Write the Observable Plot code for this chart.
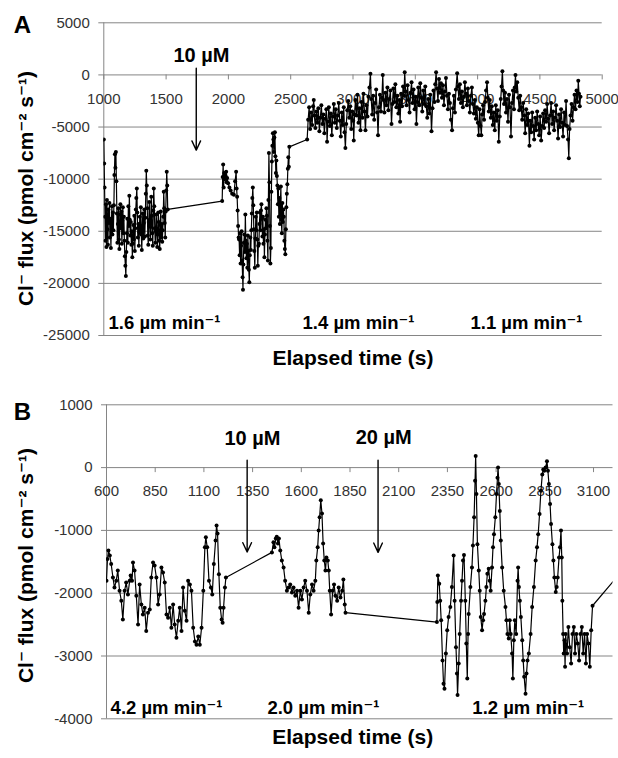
<!DOCTYPE html>
<html>
<head>
<meta charset="utf-8">
<script src="https://cdn.jsdelivr.net/npm/d3@7"></script>
<script src="https://cdn.jsdelivr.net/npm/@observablehq/plot@0.6"></script>
<style>
  html, body { margin: 0; padding: 0; background: #fff; }
  #chart { position: relative; width: 618px; height: 758px; background: #fff; overflow: hidden; }
  #chart svg { position: absolute; left: 0; overflow: visible; }
</style>
</head>
<body>
<div id="chart"></div>
<script>
// ---------- Panel A data: [elapsed time (s), Cl- flux (pmol cm-2 s-1)] ----------
const seriesA1 = [[1000,-6200],[1003,-8500],[1006,-10800],[1010,-13600],[1013,-15900],[1017,-12400],[1021,-16500],[1025,-12000],[1029,-14800],[1033,-16300],[1037,-12900],[1041,-14200],[1045,-12300],[1049,-15600],[1053,-13800],[1057,-16600],[1061,-14200],[1065,-12600],[1069,-15300],[1073,-13200],[1077,-14900],[1081,-12500],[1085,-9600],[1089,-7600],[1093,-8900],[1097,-7400],[1101,-10200],[1105,-13300],[1109,-16100],[1113,-14300],[1117,-12800],[1121,-15800],[1125,-16700],[1129,-13400],[1133,-12400],[1137,-14700],[1141,-13100],[1145,-16200],[1149,-14000],[1153,-12700],[1157,-15200],[1161,-13600],[1165,-15900],[1169,-17400],[1173,-18300],[1177,-19300],[1181,-17000],[1185,-15200],[1189,-13800],[1193,-16100],[1197,-12600],[1201,-14500],[1205,-11600],[1209,-13900],[1213,-15400],[1217,-14100],[1221,-16300],[1225,-15000],[1229,-17500],[1233,-16200],[1237,-14400],[1241,-15800],[1245,-13500],[1249,-16900],[1253,-14700],[1257,-12900],[1261,-11800],[1265,-10900],[1269,-13200],[1273,-15600],[1277,-14300],[1281,-16400],[1285,-15100],[1289,-13600],[1293,-14800],[1297,-12700],[1301,-15300],[1305,-16800],[1309,-14500],[1313,-13300],[1317,-15700],[1321,-14200],[1325,-12900],[1329,-15500],[1333,-13700],[1337,-11400],[1341,-9200],[1345,-10600],[1349,-12800],[1353,-15400],[1357,-16300],[1361,-14100],[1365,-12200],[1369,-13900],[1373,-15800],[1377,-14600],[1381,-11700],[1385,-13500],[1389,-15200],[1393,-16400],[1397,-13000],[1401,-10900],[1405,-12600],[1409,-14700],[1413,-16100],[1417,-15000],[1421,-13400],[1425,-14800],[1429,-16500],[1433,-15300],[1437,-13200],[1441,-14100],[1445,-15900],[1449,-16700],[1453,-14400],[1457,-13100],[1461,-15600],[1465,-14300],[1469,-16000],[1473,-14900],[1477,-13600],[1481,-11200],[1485,-12800],[1489,-14200],[1493,-15600],[1497,-13100],[1501,-11100],[1505,-9300],[1509,-10600],[1513,-12900]];
const seriesA2 = [[1950,-12100],[1954,-9800],[1958,-8600],[1962,-10800],[1966,-9400],[1970,-10000],[1974,-9600],[1978,-9700],[1982,-9300],[1986,-10300],[1990,-9900],[1998,-10400],[2008,-10800],[2018,-11100],[2030,-11400],[2044,-11500],[2054,-10200],[2062,-9300],[2066,-10900],[2070,-11700],[2074,-13000],[2078,-14500],[2082,-15600],[2086,-15800],[2090,-17300],[2094,-15200],[2098,-18100],[2102,-16400],[2106,-15000],[2110,-17800],[2114,-19400],[2117,-20600],[2120,-18200],[2124,-16100],[2128,-15300],[2132,-17000],[2136,-13400],[2140,-15900],[2144,-17600],[2148,-16200],[2152,-18500],[2156,-15400],[2160,-16900],[2164,-18700],[2168,-19900],[2172,-17300],[2176,-15600],[2180,-16800],[2184,-14900],[2188,-13300],[2192,-11800],[2196,-10800],[2200,-12500],[2204,-14800],[2208,-16900],[2212,-18500],[2216,-15700],[2220,-13600],[2224,-14900],[2228,-13200],[2232,-15800],[2236,-18300],[2240,-16400],[2245,-16200],[2249,-14300],[2253,-13200],[2257,-14900],[2261,-13000],[2265,-12400],[2269,-13800],[2273,-15500],[2277,-13600],[2281,-16200],[2285,-14800],[2289,-17500],[2293,-15300],[2297,-13900],[2301,-14700],[2305,-12800],[2309,-13500],[2313,-15900],[2317,-17800],[2321,-12000],[2325,-7500],[2329,-10300],[2333,-14500],[2337,-18100],[2341,-16600],[2345,-11200],[2349,-8300],[2353,-6800],[2357,-5600],[2361,-6200],[2365,-7400],[2369,-6000],[2373,-5500],[2377,-7800],[2381,-9400],[2385,-8200],[2389,-9700],[2393,-10600],[2397,-12400],[2401,-10900],[2405,-13600],[2409,-11800],[2413,-14300],[2417,-12600],[2421,-10700],[2425,-13900],[2429,-15200],[2433,-12300],[2437,-14100],[2441,-12900],[2445,-13600],[2449,-15900],[2453,-16700],[2457,-17200],[2461,-14800],[2465,-12700],[2469,-11400],[2473,-10500],[2477,-9000],[2481,-7900],[2485,-8800],[2489,-6900]];
const seriesA3 = [[2632,-6200],[2640,-4300],[2648,-3100],[2656,-5200],[2664,-3600],[2672,-4800],[2680,-3000],[2685,-2400],[2690,-3900],[2698,-5100],[2706,-3500],[2714,-4600],[2722,-3200],[2730,-5400],[2738,-4100],[2746,-2900],[2754,-4700],[2762,-3800],[2770,-5600],[2778,-4200],[2786,-3300],[2792,-6400],[2798,-4500],[2806,-3100],[2814,-4900],[2822,-3700],[2830,-5800],[2838,-4000],[2846,-2800],[2854,-4600],[2862,-3300],[2870,-5100],[2878,-3900],[2886,-2700],[2894,-4400],[2902,-5900],[2910,-3600],[2918,-4800],[2926,-3100],[2932,-5500],[2939,-7000],[2946,-4700],[2954,-3400],[2962,-2500],[2970,-4100],[2978,-3000],[2986,-5200],[2994,-3500],[3002,-4400],[3006,-6300],[3012,-3800],[3020,-2400],[3028,-3900],[3036,-1900],[3044,-4600],[3052,-3200],[3060,-5300],[3068,-2600],[3076,-4100],[3084,-1800],[3092,-3500],[3100,-5300],[3108,-2900],[3116,-4000],[3124,-2100],[3132,-1200],[3140,100],[3146,-2300],[3154,-3800],[3162,-2000],[3170,-4300],[3178,-2700],[3186,-1400],[3194,-3600],[3201,-5800],[3208,-3100],[3216,-1900],[3224,-3500],[3232,-2200],[3239,0],[3245,-2400],[3252,-3600],[3260,-1700],[3268,-2900],[3276,-1200],[3284,-3400],[3292,-2300],[3300,-1500],[3309,-4700],[3316,-2800],[3324,-1300],[3332,-2600],[3340,-900],[3348,-3100],[3356,-2000],[3364,-3700],[3372,-2400],[3378,-4500],[3386,-1800],[3394,-3000],[3402,-1100],[3409,-2000],[3415,250],[3422,-1600],[3430,-2900],[3438,-1000],[3446,-2400],[3454,-3600],[3462,-1700],[3470,-700],[3478,-2700],[3486,-1400],[3494,-3300],[3502,-2100],[3509,-4700],[3516,-2600],[3524,-1200],[3532,-2900],[3540,-800],[3548,-2200],[3556,-3500],[3564,-1500],[3572,-2800],[3580,-1100],[3588,-3000],[3596,-4100],[3604,-2300],[3612,-3700],[3620,-1900],[3630,-5400],[3638,-3200],[3646,-1500],[3654,-2600],[3660,-900],[3667,250],[3674,-1300],[3682,-2500],[3690,-400],[3698,-1700],[3706,-800],[3714,-2200],[3722,-1000],[3730,-2900],[3738,-1600],[3746,-300],[3754,-2000],[3762,-3300],[3770,-1800],[3778,-2700],[3786,-4300],[3795,-5300],[3802,-3200],[3810,-2000],[3818,-3600],[3826,-1400],[3836,160],[3842,-1100],[3850,-2300],[3858,-900],[3866,-2700],[3874,-1600],[3882,-3100],[3890,-2100],[3898,-700],[3906,-1800],[3914,-2900],[3922,-1300],[3930,-2500],[3938,-3600],[3946,-2000],[3954,-1200],[3962,-2800],[3970,-3700],[3978,-2400],[3986,-4200],[3994,-3100],[4002,-4600],[4009,-5800],[4016,-3300],[4024,-4900],[4030,-5800],[4036,-3800],[4044,-2900],[4052,-4300],[4060,-2600],[4068,-1500],[4076,-700],[4082,-2200],[4090,-3500],[4098,-2400],[4106,-4100],[4114,-3000],[4122,-4800],[4130,-3600],[4138,-5300],[4146,-2900],[4154,-4400],[4162,-3400],[4170,-6400],[4178,-4000],[4186,-2300],[4192,-1100],[4199,350],[4205,-1500],[4212,-2800],[4220,-1700],[4228,-3600],[4236,-2300],[4244,-4500],[4252,-1900],[4260,-3100],[4268,-5900],[4276,-2700],[4284,-1500],[4292,-3300],[4298,-1200],[4304,0],[4310,-1600],[4318,-700],[4326,-2200],[4334,-3400],[4342,-2000],[4350,-3100],[4358,-4300],[4366,-2700],[4374,-3900],[4382,-5600],[4390,-3300],[4398,-4800],[4406,-3700],[4416,-6800],[4422,-4400],[4430,-5500],[4438,-3600],[4446,-4900],[4454,-6200],[4462,-4100],[4470,-5300],[4478,-3500],[4486,-4700],[4494,-5800],[4502,-4000],[4510,-6300],[4518,-4900],[4526,-3700],[4534,-5100],[4542,-3400],[4550,-4500],[4558,-2800],[4566,-4200],[4574,-5600],[4582,-3900],[4590,-2700],[4598,-4700],[4606,-3500],[4614,-5300],[4622,-4100],[4630,-2900],[4638,-4400],[4646,-6100],[4654,-3800],[4662,-5000],[4670,-3300],[4678,-4600],[4686,-5900],[4694,-3600],[4702,-4800],[4710,-2500],[4718,-4900],[4726,-6200],[4732,-8000],[4738,-5200],[4746,-3900],[4754,-2800],[4762,-4400],[4770,-3100],[4778,-1900],[4786,-3300],[4794,-1500],[4802,-2600],[4808,-550],[4814,-1800],[4820,-3000],[4826,-2100]];

// ---------- Panel B data ----------
const seriesB1 = [[600,-1800],[605,-1455],[610,-1320],[617,-1400],[624,-1535],[633,-1750],[641,-1910],[650,-1800],[658,-1640],[667,-1960],[676,-2120],[684,-2420],[693,-1960],[701,-1830],[710,-2020],[719,-1800],[724,-1720],[731,-1800],[736,-1510],[744,-1640],[753,-2040],[762,-2500],[770,-1860],[779,-2180],[787,-2340],[796,-2230],[804,-2600],[813,-2310],[822,-2260],[830,-1750],[839,-1510],[847,-1560],[856,-1750],[865,-2180],[873,-2020],[882,-1590],[890,-1670],[899,-1830],[908,-2340],[916,-2390],[925,-2230],[933,-2550],[942,-2180],[950,-2500],[959,-2710],[968,-2440],[976,-2230],[985,-2600],[993,-1910],[1002,-2280],[1011,-2440],[1019,-1800],[1028,-1860],[1036,-1960],[1045,-2550],[1054,-2770],[1062,-2820],[1071,-2690],[1079,-2820],[1088,-2550],[1097,-1960],[1105,-1270],[1110,-1110],[1117,-1270],[1126,-1800],[1136,-1910],[1143,-2020],[1151,-1535],[1160,-1160],[1165,-920],[1170,-1050],[1177,-1700],[1184,-2230],[1191,-2420],[1196,-2470],[1201,-2230],[1208,-1910],[1213,-1750]];
const seriesB2 = [[1449,-1350],[1457,-1190],[1462,-1270],[1469,-1130],[1474,-1100],[1480,-1210],[1485,-1130],[1492,-1320],[1500,-1480],[1509,-1590],[1517,-1800],[1526,-1960],[1535,-1910],[1543,-1860],[1552,-1990],[1560,-1910],[1569,-2040],[1578,-1960],[1586,-2230],[1595,-1960],[1603,-2100],[1612,-1910],[1620,-1800],[1629,-1960],[1638,-2310],[1646,-2020],[1655,-1860],[1663,-1960],[1672,-1800],[1677,-1480],[1684,-1270],[1689,-1000],[1694,-790],[1700,-520],[1706,-730],[1712,-1210],[1718,-1480],[1724,-1640],[1729,-1430],[1736,-1480],[1741,-1640],[1746,-1960],[1753,-2340],[1761,-1960],[1768,-1860],[1775,-2040],[1784,-2120],[1792,-1910],[1801,-2070],[1810,-1960],[1816,-1780],[1823,-2180],[1827,-2310]];
const seriesB3 = [[2296,-2460],[2298,-2140],[2301,-1720],[2308,-1850],[2313,-2120],[2318,-2430],[2325,-3070],[2330,-3440],[2335,-3520],[2342,-2960],[2349,-2590],[2356,-2380],[2365,-2220],[2373,-1900],[2382,-1400],[2387,-2120],[2394,-2860],[2399,-3280],[2402,-3620],[2408,-3120],[2413,-2650],[2420,-2120],[2425,-1800],[2430,-1480],[2435,-1390],[2442,-2120],[2447,-2800],[2452,-3360],[2456,-2650],[2459,-2330],[2468,-1900],[2476,-1590],[2481,-1240],[2487,-790],[2492,-210],[2495,185],[2499,-420],[2504,-1220],[2511,-1640],[2516,-1960],[2521,-2380],[2528,-2590],[2533,-2430],[2538,-2330],[2545,-2120],[2550,-1900],[2555,-1690],[2562,-1610],[2567,-1800],[2572,-1960],[2579,-1590],[2584,-1270],[2589,-1060],[2596,-790],[2602,-420],[2607,-160],[2610,0],[2614,-260],[2619,-690],[2624,-1160],[2631,-1590],[2639,-1960],[2648,-2220],[2653,-2430],[2658,-2650],[2665,-2720],[2670,-2430],[2675,-2650],[2682,-2960],[2686,-3360],[2691,-2750],[2696,-2430],[2703,-2650],[2710,-1800],[2713,-1590],[2717,-1900],[2722,-2120],[2727,-2380],[2734,-2750],[2739,-3070],[2744,-3330],[2751,-3600],[2756,-3280],[2761,-3070],[2768,-2960],[2777,-2650],[2785,-2220],[2794,-1900],[2803,-1480],[2810,-1270],[2816,-1060],[2823,-740],[2830,-370],[2837,-110],[2842,-30],[2847,-50],[2854,0],[2861,100],[2866,-50],[2871,-260],[2877,-580],[2882,-900],[2889,-1220],[2894,-1480],[2899,-1750],[2906,-1980],[2911,-1900],[2916,-1750],[2923,-1430],[2928,-1270],[2933,-1000],[2937,-1430],[2940,-2120],[2944,-2650],[2947,-2960],[2951,-2750],[2954,-3170],[2957,-2650],[2964,-2960],[2971,-2540],[2978,-2860],[2985,-3120],[2992,-2650],[2999,-2540],[3005,-2960],[3012,-2650],[3019,-2800],[3026,-3070],[3033,-2650],[3040,-2540],[3047,-2960],[3054,-2650],[3061,-3120],[3067,-2650],[3074,-2800],[3081,-3170],[3088,-2590],[3095,-2200],[3300,-1450]];

// ---------- axes / ticks ----------
const xTicksA = [1000, 1500, 2000, 2500, 3000, 3500, 4000, 4500, 5000];
const yTicksA = [5000, 0, -5000, -10000, -15000, -20000, -25000];
const xTicksB = [600, 850, 1100, 1350, 1600, 1850, 2100, 2350, 2600, 2850, 3100];
const yTicksB = [1000, 0, -1000, -2000, -3000, -4000];

// ---------- annotations ----------
const doseA = [{label: "10 µM", t: 1742, top: 640, tip: -7220, labelY: 1900, labelT: 1784}];
const doseB = [
  {label: "10 µM", t: 1322, top: 116, tip: -1344, labelY: 466, labelT: 1349},
  {label: "20 µM", t: 1994, top: 116, tip: -1350, labelY: 482, labelT: 2023}
];
const ratesA = [{label: "1.6 µm min⁻¹", t: 1038}, {label: "1.4 µm min⁻¹", t: 2595}, {label: "1.1 µm min⁻¹", t: 3943}];
const ratesB = [{label: "4.2 µm min⁻¹", t: 621}, {label: "2.0 µm min⁻¹", t: 1426}, {label: "1.2 µm min⁻¹", t: 2478}];
const yTitle = "Cl⁻ flux (pmol cm⁻² s⁻¹)";
const xTitle = "Elapsed time (s)";

const toRows = (arr) => arr.map(([t, v]) => ({t, v}));
const FONT = "'Liberation Sans', Arial, 'DejaVu Sans', sans-serif";
const GRID = "#858585";

function panel({segments, xDomain, yDomain, xTicks, yTicks, tickLen, height, margins, panelLabel, labelPos, doses, rates, rateY, yTitleShift, xTitleShift}) {
  const all = toRows(segments.flat());
  return Plot.plot({
    width: 618,
    height,
    marginLeft: margins[0], marginRight: margins[1], marginTop: margins[2], marginBottom: margins[3],
    x: {domain: xDomain, axis: null},
    y: {domain: yDomain, axis: null},
    style: {fontFamily: FONT, background: "transparent", overflow: "visible"},
    marks: [
      Plot.ruleY(yTicks, {y: d => d, stroke: GRID, strokeWidth: 1, insetLeft: -5}),
      Plot.ruleX([xDomain[0]], {stroke: GRID, strokeWidth: 1}),
      Plot.ruleX(xTicks, {x: d => d, y1: 0, y2: -tickLen, stroke: GRID, strokeWidth: 1}),
      Plot.text(xTicks, {x: d => d, y: 0, dy: 24, text: d => String(d), fontSize: 15, fill: "#333", textAnchor: "middle", lineAnchor: "middle"}),
      Plot.text(yTicks, {x: xDomain[0], y: d => d, dx: -14, text: d => String(d), fontSize: 15, fill: "#333", textAnchor: "end", lineAnchor: "middle"}),
      Plot.line(all, {x: "t", y: "v", stroke: "#000", strokeWidth: 1.2, clip: true}),
      Plot.dot(all, {x: "t", y: "v", r: 2, fill: "#000", stroke: "none", clip: true}),
      Plot.arrow(doses, {x1: "t", x2: "t", y1: "top", y2: "tip", stroke: "#000", strokeWidth: 1.4, headLength: 11, headAngle: 50}),
      Plot.text(doses, {x: "labelT", y: "labelY", text: "label", fontSize: 20, fontWeight: "bold", fill: "#000", textAnchor: "middle", lineAnchor: "middle"}),
      Plot.text(rates, {x: "t", y: rateY, text: "label", fontSize: 18.5, fontWeight: "bold", fill: "#000", textAnchor: "start", lineAnchor: "middle"}),
      Plot.text([panelLabel], {frameAnchor: "top-left", dx: labelPos[0], dy: labelPos[1], text: d => d, fontSize: 24, fontWeight: "bold", fill: "#000", textAnchor: "middle", lineAnchor: "middle"}),
      Plot.text([yTitle], {frameAnchor: "left", dx: yTitleShift[0], dy: yTitleShift[1], rotate: -90, text: d => d, fontSize: 21, fontWeight: "bold", fill: "#000", textAnchor: "middle", lineAnchor: "middle"}),
      Plot.text([xTitle], {frameAnchor: "bottom", dx: xTitleShift[0], dy: xTitleShift[1], text: d => d, fontSize: 21, fontWeight: "bold", fill: "#000", textAnchor: "middle", lineAnchor: "middle"})
    ]
  });
}

const chartA = panel({
  segments: [seriesA1, seriesA2, seriesA3],
  xDomain: [1000, 5000], yDomain: [-25000, 5000],
  xTicks: xTicksA, yTicks: yTicksA, tickLen: 480,
  height: 370, margins: [103.3, 16.3, 22.3, 35],
  panelLabel: "A", labelPos: [-81.3, 2.7],
  doses: doseA, rates: ratesA, rateY: () => -23790,
  yTitleShift: [-77.3, 9.4], xTitleShift: [0, 23]
});
const chartB = panel({
  segments: [seriesB1, seriesB2, seriesB3],
  xDomain: [600, 3200], yDomain: [-4000, 1000],
  xTicks: xTicksB, yTicks: yTicksB, tickLen: 80,
  height: 388, margins: [106, 5.5, 34.3, 39.7],
  panelLabel: "B", labelPos: [-84, 7.7],
  doses: doseB, rates: ratesB, rateY: () => -3837,
  yTitleShift: [-80, 3.7], xTitleShift: [-7, 18.7]
});
chartA.style.top = "0px";
chartB.style.top = "370px";
const root = document.getElementById("chart");
root.appendChild(chartA);
root.appendChild(chartB);
</script>
</body>
</html>
